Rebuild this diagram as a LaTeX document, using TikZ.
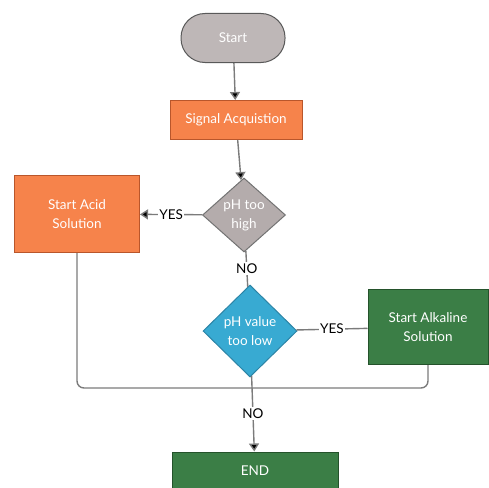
\documentclass[tikz,border=0pt]{standalone}
\usepackage{fontspec}
\setmainfont{Lato}
\usetikzlibrary{shapes.geometric,arrows.meta,positioning}

\definecolor{startgray}{HTML}{BEB7B7}
\definecolor{steporange}{HTML}{F6834B}
\definecolor{steporangeline}{HTML}{B9562B}
\definecolor{highgray}{HTML}{B4ACAC}
\definecolor{lowblue}{HTML}{38AAD2}
\definecolor{lowblueline}{HTML}{2C84A6}
\definecolor{stepgreen}{HTML}{3B7E46}
\definecolor{stepgreenline}{HTML}{24522B}
\definecolor{linkgray}{HTML}{7B7B7B}

\begin{document}
\begin{tikzpicture}[x=1pt,y=-1pt,->,>={Triangle[width=10pt,length=8pt]},line width=1.4pt,
    box node/.style={rectangle,draw,line width=1pt,text=white,inner sep=0pt,align=center,font=\fontsize{13.5}{19}\selectfont},
    check node/.style={diamond,draw,line width=1pt,text=white,inner sep=0pt,align=center,font=\fontsize{13.5}{19}\selectfont},
    link label/.style={fill=white,text=black,inner sep=1.5pt,font=\fontsize{13.5}{16}\selectfont}]
    \useasboundingbox (0,0) rectangle (489,487);

    \node[box node, fill=startgray, draw=black!65, rounded corners=24pt, minimum width=104pt, minimum height=49pt] (start) at (233,38) {Start};
    \node[box node, fill=steporange, draw=steporangeline, minimum width=132pt, minimum height=39pt] (signal) at (236,120) {Signal Acquistion};
    \node[check node, fill=highgray, draw=black!55, minimum width=83pt, minimum height=74pt] (high) at (244,215) {pH too\\high};
    \node[box node, fill=steporange, draw=steporangeline, minimum width=125pt, minimum height=77pt] (acid) at (77,214) {Start Acid\\Solution};
    \node[check node, fill=lowblue, draw=lowblueline, minimum width=94pt, minimum height=92pt] (low) at (250,331) {pH value\\too low};
    \node[box node, fill=stepgreen, draw=stepgreenline, minimum width=120pt, minimum height=75pt] (alkaline) at (428,327) {Start Alkaline\\Solution};
    \node[box node, fill=stepgreen, draw=stepgreenline, minimum width=166pt, minimum height=38pt] (end) at (255,471) {END};
    \coordinate (join) at (250,388);

    \path[draw=linkgray, every node/.style={link label}]
        (start) edge (signal)
        (signal) edge (high)
        (high) edge node {YES} (acid)
        (high) edge[-] node {NO} (low)
        (low) edge[-] node {YES} (alkaline)
        (low) edge node {NO} (end)
        ;
    \draw[-, draw=linkgray, rounded corners=7pt] (acid.south) |- (join) -| (alkaline.south);
\end{tikzpicture}
\end{document}
